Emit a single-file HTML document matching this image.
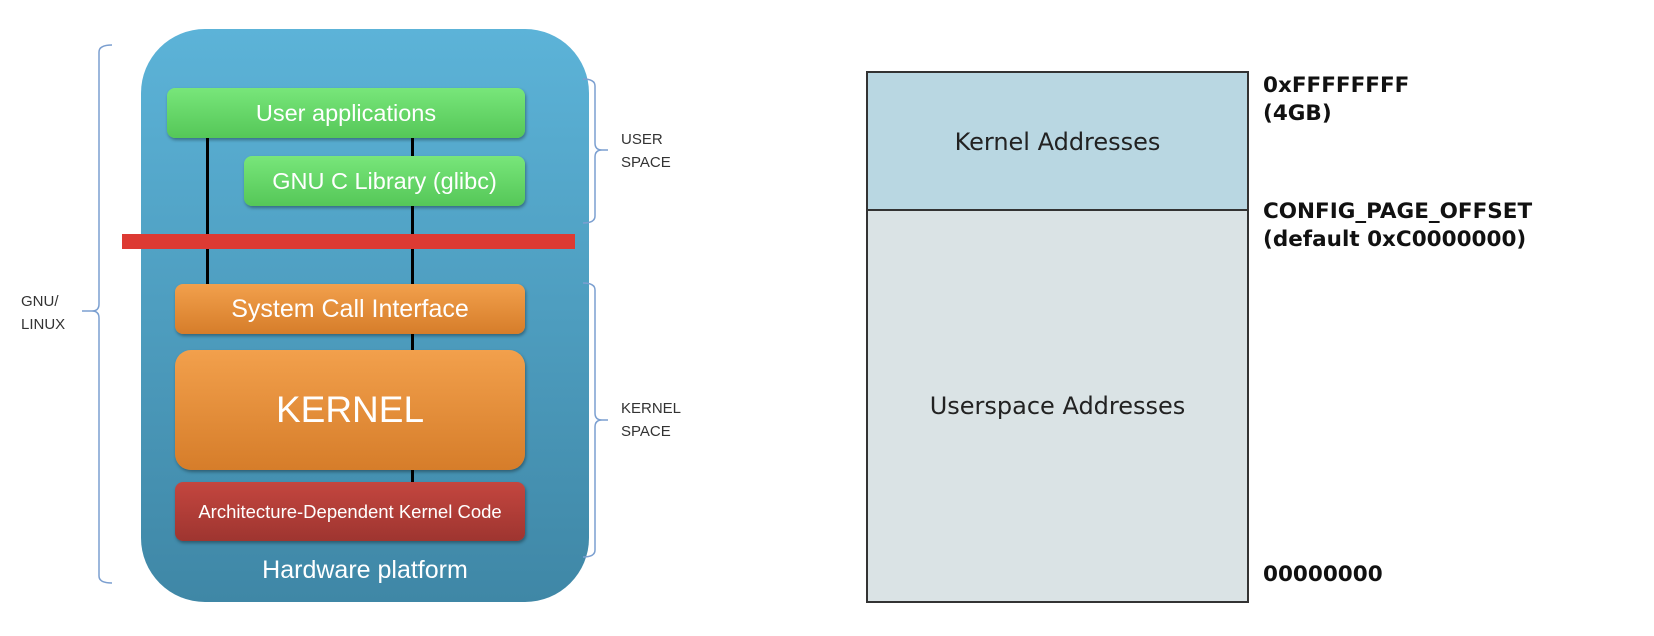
<!DOCTYPE html>
<html><head><meta charset="utf-8"><style>
body{margin:0;width:1654px;height:636px;background:#fff;position:relative;overflow:hidden;font-family:"Liberation Sans",sans-serif}
.a{position:absolute}
.box{position:absolute;display:flex;align-items:center;justify-content:center;color:#fff;border-radius:8px;box-shadow:1px 2px 3px rgba(0,0,0,.35);white-space:nowrap}
.g{background:linear-gradient(#78e67a,#55c758)}
.o{background:linear-gradient(#f2a04c,#d67d2a);}
.lbl{position:absolute;font-size:15px;color:#333;line-height:23px}
.addr{position:absolute;left:1263px;font-weight:bold;font-size:21.5px;color:#111;line-height:28px;font-family:"DejaVu Sans",sans-serif;white-space:nowrap}
.mem{position:absolute;left:866px;width:379px;border:2px solid #333;display:flex;align-items:center;justify-content:center;font-size:24px;color:#222;font-family:'DejaVu Sans',sans-serif}
</style></head><body>
<div class="a" style="left:141px;top:29px;width:448px;height:573px;border-radius:64px;background:linear-gradient(#5cb3d8,#3f87a6)"></div>
<div class="a" style="left:206px;top:138px;width:3px;height:146px;background:#000"></div>
<div class="a" style="left:411px;top:138px;width:3px;height:212px;background:#000"></div>
<div class="a" style="left:411px;top:470px;width:3px;height:12px;background:#000"></div>
<div class="box g" style="left:167px;top:88px;width:358px;height:50px;font-size:23.5px">User applications</div>
<div class="box g" style="left:244px;top:156px;width:281px;height:50px;font-size:23.5px">GNU C Library (glibc)</div>
<div class="a" style="left:122px;top:234px;width:453px;height:15px;background:#dd3a33"></div>
<div class="box o" style="left:175px;top:284px;width:350px;height:50px;font-size:25px">System Call Interface</div>
<div class="box o" style="left:175px;top:350px;width:350px;height:120px;font-size:37px;border-radius:16px">KERNEL</div>
<div class="box" style="left:175px;top:482px;width:350px;height:59px;background:linear-gradient(#c4463f,#9e3530);font-size:18.5px">Architecture-Dependent Kernel Code</div>
<div class="a" style="left:141px;top:556px;width:448px;text-align:center;color:#fff;font-size:25px">Hardware platform</div>
<svg class="a" style="left:0;top:0" width="700" height="636">
<g fill="none" stroke="#7b9fd0" stroke-width="1.5">
<path d="M112 45 Q99 45 99 52 V304 Q99 311 92 311 H82 M92 311 Q99 311 99 318 V576 Q99 583 112 583"/>
<path d="M583 79 Q595 79 595 86 V143 Q595 150 602 150 H608 M602 150 Q595 150 595 157 V216 Q595 223 583 223"/>
<path d="M583 283 Q595 283 595 290 V413 Q595 420 602 420 H608 M602 420 Q595 420 595 427 V550 Q595 557 583 557"/>
</g></svg>
<div class="lbl" style="left:21px;top:290px">GNU/<br>LINUX</div>
<div class="lbl" style="left:621px;top:128px">USER<br>SPACE</div>
<div class="lbl" style="left:621px;top:397px">KERNEL<br>SPACE</div>
<div class="mem" style="top:71px;height:138px;background:#b9d7e2">Kernel Addresses</div>
<div class="mem" style="top:209px;height:390px;background:#dae3e5">Userspace Addresses</div>
<div class="addr" style="top:72px">0xFFFFFFFF<br>(4GB)</div>
<div class="addr" style="top:198px">CONFIG_PAGE_OFFSET<br>(default 0xC0000000)</div>
<div class="addr" style="top:561px">00000000</div>
</body></html>
